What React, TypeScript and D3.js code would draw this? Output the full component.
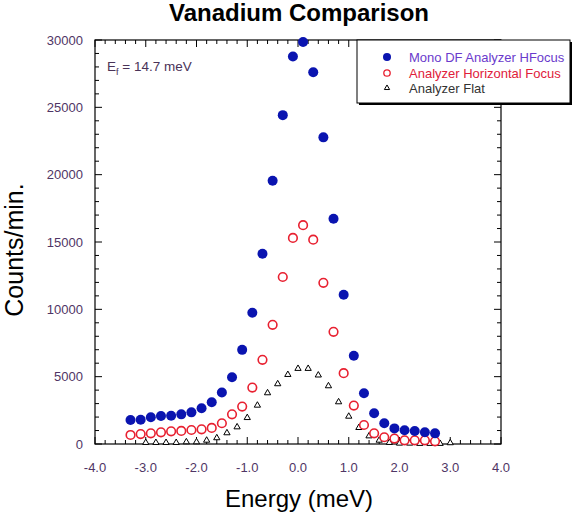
import React from "react";
import * as d3 from "d3";

const monoX = [-3.3,-3.1,-2.9,-2.7,-2.5,-2.3,-2.1,-1.9,-1.7,-1.5,-1.3,-1.1,-0.9,-0.7,-0.5,-0.3,-0.1,0.1,0.3,0.5,0.7,0.9,1.1,1.3,1.5,1.7,1.9,2.1,2.3,2.5,2.7];
const monoY = [1780,1800,1980,2080,2100,2200,2350,2650,3100,3820,4960,6990,9740,14130,19550,24420,28770,29850,27600,22770,16720,11080,6550,3770,2280,1540,1160,1020,970,870,790];
const hfX = monoX;
const hfY = [670,740,790,870,940,970,1040,1090,1190,1540,2200,2780,4190,6250,8850,12400,15300,16250,15170,11970,8330,5260,2850,1410,790,500,400,270,270,270,200];
const flatX = [-3.0,-2.8,-2.6,-2.4,-2.2,-2.0,-1.8,-1.6,-1.4,-1.2,-1.0,-0.8,-0.6,-0.4,-0.2,0.0,0.2,0.4,0.6,0.8,1.0,1.2,1.4,1.6,1.8,2.0,2.2,2.4,2.6,2.8,3.0];
const flatY = [100,100,100,100,150,150,270,450,820,1260,1950,2870,3790,4460,5150,5600,5600,5110,4310,3120,2050,1210,590,270,100,50,50,30,30,30,80];
const xTicks = [-4,-3,-2,-1,0,1,2,3,4];
const yTicks = [0,5000,10000,15000,20000,25000,30000];
const legendLabels = ["Mono DF Analyzer HFocus","Analyzer Horizontal Focus","Analyzer Flat"];

const W = 578, H = 517;
const L = 95, R = 501, T = 40, B = 444;
const font = "Arial, 'Liberation Sans', sans-serif";
const tickColor = "#4f3565";

export default function App() {
  const x = d3.scaleLinear().domain([-4, 4]).range([L, R]);
  const y = d3.scaleLinear().domain([0, 30000]).range([B, T]);
  const xMinor = d3.range(-4, 4.0001, 0.2).map(v => Math.round(v * 10) / 10);
  const yMinor = d3.range(0, 30001, 1000);
  const tri = d3.symbol().type(d3.symbolTriangle).size(17)();
  const blue = "#0a14b0";
  const red = "#e82030";

  return (
    <svg width={W} height={H} style={{ position: "absolute", left: 0, top: 0, background: "#fff" }} fontFamily={font}>
      <text x={299} y={21} textAnchor="middle" fontSize={24} fontWeight="bold" fill="#000">Vanadium Comparison</text>
      {/* ticks */}
      {xMinor.map((v, i) => {
        const major = Math.abs(v - Math.round(v)) < 1e-6;
        const len = major ? 7 : 4;
        return (
          <g key={"xt" + i} stroke="#000" strokeWidth={1}>
            <line x1={x(v)} x2={x(v)} y1={B} y2={B - len} />
            <line x1={x(v)} x2={x(v)} y1={T} y2={T + len} />
          </g>
        );
      })}
      {yMinor.map((v, i) => {
        const major = v % 5000 === 0;
        const len = major ? 7 : 4;
        return (
          <g key={"yt" + i} stroke="#000" strokeWidth={1}>
            <line x1={L} x2={L + len} y1={y(v)} y2={y(v)} />
            <line x1={R} x2={R - len} y1={y(v)} y2={y(v)} />
          </g>
        );
      })}
      <rect x={L} y={T} width={R - L} height={B - T} fill="none" stroke="#000" strokeWidth={1.2} />
      {xTicks.map(v => (
        <text key={"xl" + v} x={x(v)} y={B + 28} textAnchor="middle" fontSize={13} fill={tickColor}>{v.toFixed(1)}</text>
      ))}
      {yTicks.map(v => (
        <text key={"yl" + v} x={L - 12} y={y(v) + 4.5} textAnchor="end" fontSize={13} fill={tickColor}>{v}</text>
      ))}
      <text x={299} y={507} textAnchor="middle" fontSize={24} fill="#000">Energy (meV)</text>
      <text transform={`translate(23,${250}) rotate(-90)`} textAnchor="middle" fontSize={25} fill="#000">Counts/min.</text>
      <text x={107} y={71} fontSize={13.5} fill="#4a3358">E<tspan fontSize={9} dy={4}>f</tspan><tspan dy={-4}> = 14.7 meV</tspan></text>
      {/* data */}
      {flatX.map((v, i) => (
        <path key={"f" + i} d={tri} transform={`translate(${x(v)},${y(flatY[i])})`} fill="#fff" stroke="#000" strokeWidth={1} />
      ))}
      {hfX.map((v, i) => (
        <circle key={"h" + i} cx={x(v)} cy={y(hfY[i])} r={4.3} fill="#fff" stroke={red} strokeWidth={1.6} />
      ))}
      {monoX.map((v, i) => (
        <circle key={"m" + i} cx={x(v)} cy={y(monoY[i])} r={5} fill={blue} />
      ))}
      {/* legend */}
      <rect x={359} y={42} width={213} height={63} fill="#000" />
      <rect x={357} y={40} width={213} height={63} fill="#fff" stroke="#000" strokeWidth={1} />
      <circle cx={387} cy={57} r={4} fill={blue} />
      <circle cx={387} cy={73} r={3.2} fill="#fff" stroke={red} strokeWidth={1.3} />
      <path d={d3.symbol().type(d3.symbolTriangle).size(12)()} transform="translate(387,88)" fill="#fff" stroke="#000" strokeWidth={1} />
      <text x={409} y={61.5} fontSize={13} fill="#6a3acc">{legendLabels[0]}</text>
      <text x={409} y={77.5} fontSize={13} fill="#e0203a">{legendLabels[1]}</text>
      <text x={409} y={92.5} fontSize={13} fill="#333">{legendLabels[2]}</text>
    </svg>
  );
}
